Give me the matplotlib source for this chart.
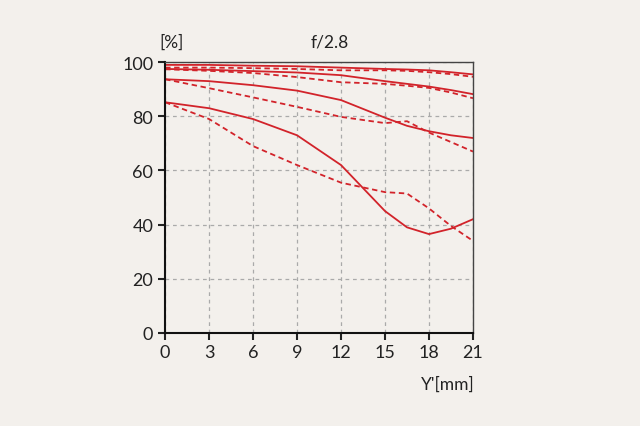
import numpy as np
import matplotlib.pyplot as plt

plt.rcParams['font.family'] = ['Lato', 'DejaVu Sans']

x = [0, 3, 6, 9, 12, 15, 16.5, 18, 19.5, 21]
solid = [
    [99, 99, 98.7, 98.5, 98, 97.5, 97.3, 97, 96.3, 95.5],
    [97.5, 97.2, 96.7, 96.2, 95.2, 93, 92, 91, 89.7, 88.2],
    [93.7, 93, 91.5, 89.5, 86, 79.5, 76.5, 74.5, 73, 72],
    [85.2, 83, 79, 73, 62, 45, 39, 36.5, 38.5, 42],
]
dashed = [
    [98, 98, 97.8, 97.5, 97, 97, 96.8, 96.3, 95.6, 94.6],
    [97.4, 96.8, 96, 94.5, 92.6, 92, 91.3, 90.5, 88.8, 86.7],
    [93.7, 90.4, 87, 83.5, 79.8, 77.5, 78.2, 74, 70.5, 67],
    [85.2, 79, 69, 62, 55.5, 52, 51.5, 46, 39.5, 34],
]
xticks = [0, 3, 6, 9, 12, 15, 18, 21]
yticks = [0, 20, 40, 60, 80, 100]

bg = '#f3f0ec'
red = '#d2232a'

fig = plt.figure(figsize=(6.4, 4.27), dpi=100, facecolor=bg)
ax = fig.add_axes([0.258, 0.218, 0.481, 0.634], facecolor=bg)

for s in solid:
    ax.plot(x, s, color=red, lw=1.3)
for d in dashed:
    ax.plot(x, d, color=red, lw=1.3, ls=(0, (3, 2)))

ax.set_xlim(0, 21)
ax.set_ylim(0, 100)
ax.set_xticks(xticks)
ax.set_yticks(yticks)
ax.grid(True, color='#aaaaaa', ls=(0, (3, 3)), lw=0.9)
for sp in ['top', 'right']:
    ax.spines[sp].set_color('#444444')
    ax.spines[sp].set_linewidth(1.0)
for sp in ['left', 'bottom']:
    ax.spines[sp].set_color('#111111')
    ax.spines[sp].set_linewidth(1.5)
ax.tick_params(direction='out', length=5, width=1.5, labelsize=13, colors='#222222')
ax.tick_params(axis='x', pad=3)

fig.text(0.268, 0.9, '[%]', fontsize=12.5, color='#222222', ha='center', va='center')
fig.text(0.516, 0.9, 'f/2.8', fontsize=12.5, color='#222222', ha='center', va='center')
fig.text(0.70, 0.098, "Y'[mm]", fontsize=12.5, color='#222222', ha='center', va='center')

fig.savefig('out.png', dpi=100, facecolor=bg)
